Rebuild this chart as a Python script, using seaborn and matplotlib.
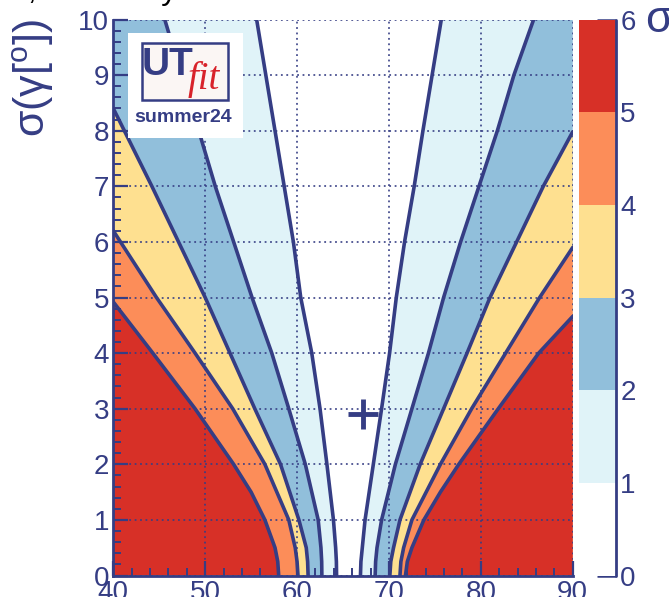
import numpy as np
import matplotlib
matplotlib.use("Agg")
import matplotlib.pyplot as plt
import seaborn as sns
from matplotlib.colors import ListedColormap, BoundaryNorm
from matplotlib.cm import ScalarMappable
from matplotlib.ticker import MultipleLocator
from matplotlib.patches import Rectangle

# ---- data -------------------------------------------------------------
# compatibility bands in units of sigma
levels = [0, 1, 2, 3, 4, 5, 6]
band_colors = ["#ffffff", "#e0f3f8", "#91bfdb", "#fee090", "#fc8d59", "#d73027"]

# n-sigma contours: gamma [deg] (x) as a function of sigma(gamma) [deg] (y)
# branches left of the predicted value
left_1_y = [0, 0.25, 0.5, 1, 2, 3, 4, 5, 6, 7, 8, 9, 10]
left_1_x = [64.3, 64.28, 64.2, 63.96, 63.25, 62.5, 61.6, 60.4, 59.6, 58.6, 57.6, 56.6, 55.6]
left_2_y = [0, 0.25, 0.5, 1, 2, 3, 4, 5, 6, 7, 8, 9, 10]
left_2_x = [62.7, 62.68, 62.6, 62.3, 60.9, 59.1, 57.25, 55.1, 53.1, 51.1, 49.3, 47.4, 45.6]
left_3_y = [0, 0.25, 0.5, 1, 2, 3, 4, 5, 6, 7, 8, 8.4]
left_3_x = [61.2, 61.15, 61.0, 60.2, 58.2, 55.4, 52.7, 50.0, 47.1, 44.2, 41.2, 40.0]
left_4_y = [0, 0.25, 0.5, 1, 2, 3, 4, 5, 6.2]
left_4_x = [60.1, 60.0, 59.8, 59.1, 56.5, 53.0, 48.9, 44.7, 40.0]
left_5_y = [0, 0.25, 0.5, 1, 1.5, 2, 3, 4, 4.92]
left_5_x = [58.0, 57.9, 57.6, 56.5, 55.0, 53.1, 48.9, 44.3, 40.0]

# branches right of the predicted value
right_1_y = [0, 0.25, 0.5, 1, 2, 3, 4, 5, 6, 7, 8, 9, 10]
right_1_x = [66.9, 66.95, 67.1, 67.4, 68.3, 69.2, 70.07, 70.8, 71.7, 72.75, 73.7, 74.7, 75.7]
right_2_y = [0, 0.25, 0.5, 1, 2, 3, 4, 5, 6, 7, 8, 9, 10]
right_2_x = [68.5, 68.55, 68.7, 69.2, 70.7, 72.5, 74.3, 75.95, 77.8, 79.8, 81.8, 83.6, 85.75]
right_3_y = [0, 0.25, 0.5, 1, 2, 3, 4, 5, 6, 7, 7.98]
right_3_x = [70.1, 70.2, 70.5, 71.2, 73.4, 75.95, 78.5, 81.0, 83.9, 86.8, 90.0]
right_4_y = [0, 0.25, 0.5, 1, 2, 3, 4, 5, 5.9]
right_4_x = [71.2, 71.3, 71.6, 72.5, 75.6, 79.0, 82.7, 86.4, 90.0]
right_5_y = [0, 0.25, 0.5, 1, 1.5, 2, 3, 4, 4.66]
right_5_x = [71.8, 72.0, 72.5, 73.8, 75.6, 77.6, 81.9, 86.3, 90.0]

# measured point
meas_gamma = [67.2]
meas_sigma = [2.9]

x_ticks = [40, 50, 60, 70, 80, 90]
y_ticks = [0, 1, 2, 3, 4, 5, 6, 7, 8, 9, 10]
cbar_ticks = [0, 1, 2, 3, 4, 5, 6]

# ---- style ------------------------------------------------------------
sns.set_theme(style="white")
plt.rcParams["font.family"] = ["Liberation Sans", "DejaVu Sans"]
plt.rcParams["mathtext.fontset"] = "custom"
plt.rcParams["mathtext.rm"] = "Liberation Sans"

navy = "#353d84"
W, H = 669, 597


def fx(px):
    return px / W


def fy(py):
    return 1 - py / H


fig = plt.figure(figsize=(W / 100, H / 100), dpi=100)
fig.patch.set_facecolor("white")
ax = fig.add_axes([fx(113.3), fy(575.5), fx(572.7) - fx(113.3), fy(19.5) - fy(575.5)])
ax.set_facecolor(band_colors[0])
ax.set_xlim(40, 90)
ax.set_ylim(0, 10)

lefts = [(left_1_x, left_1_y), (left_2_x, left_2_y), (left_3_x, left_3_y),
         (left_4_x, left_4_y), (left_5_x, left_5_y)]
rights = [(right_1_x, right_1_y), (right_2_x, right_2_y), (right_3_x, right_3_y),
          (right_4_x, right_4_y), (right_5_x, right_5_y)]

# painted outward: each region beyond the k-sigma contour gets the k..k+1 colour
xmin, xmax = ax.get_xlim()
for k, ((lx, ly), (rx, ry)) in enumerate(zip(lefts, rights), start=1):
    ax.fill([xmin] + lx + [xmin], [0] + ly + [ly[-1]],
            color=band_colors[k], lw=0, zorder=1)
    ax.fill([xmax] + rx + [xmax], [0] + ry + [ry[-1]],
            color=band_colors[k], lw=0, zorder=1)

# contour lines
for xs, ys in lefts + rights:
    sns.lineplot(x=xs, y=ys, sort=False, estimator=None, color=navy,
                 lw=2.6, ax=ax, zorder=3)

ax.plot(meas_gamma, meas_sigma, marker="+", ms=22, mew=3.5, color=navy,
        ls="none", zorder=4)

# axes decoration
ax.set_xticks(x_ticks)
ax.set_yticks(y_ticks)
ax.xaxis.set_minor_locator(MultipleLocator(2))
ax.yaxis.set_minor_locator(MultipleLocator(0.2))
ax.set_axisbelow(False)
ax.grid(True, which="major", ls=(0, (1, 2)), lw=1.3, color=navy, alpha=0.9)
ax.tick_params(which="both", direction="in", color=navy, labelcolor=navy,
               bottom=True, left=True, top=False, right=False, labelsize=20)
ax.tick_params(which="major", length=11, width=1.6, pad=3)
ax.tick_params(which="minor", length=6, width=1.4)
for side in ["top", "right"]:
    ax.spines[side].set_visible(False)
for side in ["left", "bottom"]:
    ax.spines[side].set_color(navy)
    ax.spines[side].set_linewidth(2.0)
    ax.spines[side].set_zorder(5)
ax.set_xlabel("")
ax.set_ylabel("")

fig.text(fx(33), fy(19), r"σ(γ[$^{\mathrm{o}}$])", rotation=90, ha="center",
         va="top", fontsize=31, color=navy)

# colour scale
cmap = ListedColormap(band_colors)
norm = BoundaryNorm(levels, cmap.N)
cax = fig.add_axes([fx(579), fy(575.5), fx(616) - fx(579), fy(19.5) - fy(575.5)])
cb = fig.colorbar(ScalarMappable(norm=norm, cmap=cmap), cax=cax, ticks=cbar_ticks)
cb.outline.set_visible(False)
cax.plot([1, 1], [0, 1], transform=cax.transAxes, color=navy, lw=2.0,
         clip_on=False)
cax.tick_params(direction="in", length=14, width=1.8, color=navy,
                labelcolor=navy, labelsize=20, pad=3)
fig.text(fx(645), fy(32), "σ", fontsize=32, color=navy, ha="left",
         va="baseline")

# logo box
fig.patches.append(Rectangle((fx(128), fy(138)), fx(243) - fx(128), fy(33) - fy(138),
                             transform=fig.transFigure, facecolor="white",
                             edgecolor="none", zorder=6))
fig.patches.append(Rectangle((fx(142), fy(100)), fx(228) - fx(142), fy(43) - fy(100),
                             transform=fig.transFigure, facecolor="#fbf6f4",
                             edgecolor=navy, lw=1.8, zorder=7))
fig.text(fx(142), fy(75), "UT", fontsize=28, fontweight="bold", color=navy,
         ha="left", va="baseline", zorder=8)
fig.text(fx(188), fy(89), "fit", fontsize=28, style="italic",
         family=["Liberation Serif", "DejaVu Serif"], color="#d8222a",
         ha="left", va="baseline", zorder=8)
fig.text(fx(183), fy(122), "summer24", fontsize=14, fontweight="bold",
         color=navy, ha="center", va="baseline", zorder=8)

# title line of the page above, only its descenders reach into this frame
fig.text(fx(-40), fy(-1), "UTfit, summary", fontsize=23, color="black",
         ha="left", va="baseline")

fig.savefig("out.png", dpi=100)
